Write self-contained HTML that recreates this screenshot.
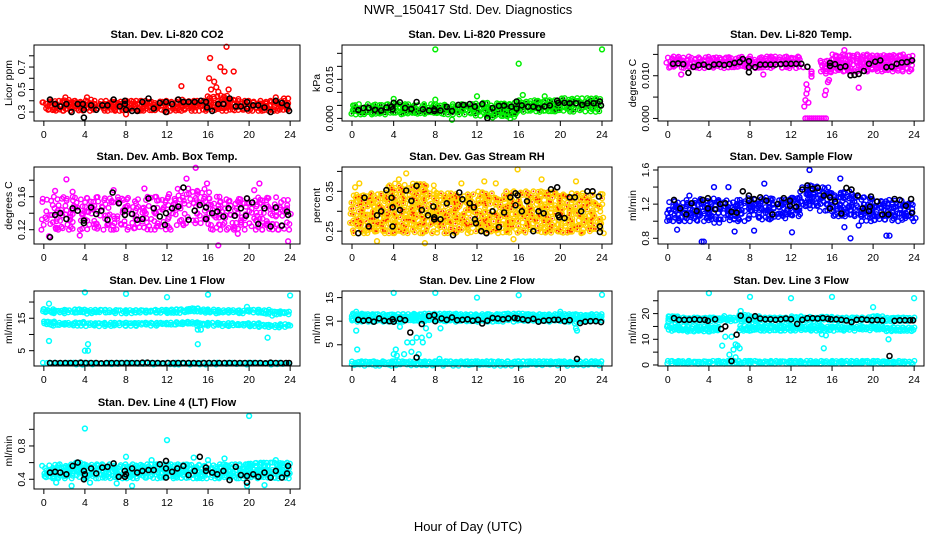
<!DOCTYPE html>
<html><head><meta charset="utf-8"><style>
html,body{margin:0;padding:0;background:#fff;}
svg{display:block;font-family:"Liberation Sans",sans-serif;}
</style></head><body>
<svg id="chart" width="936" height="540" viewBox="0 0 936 540" xmlns="http://www.w3.org/2000/svg">
<rect width="936" height="540" fill="#fff"/>
<text x="468" y="14" text-anchor="middle" font-size="13">NWR_150417  Std. Dev. Diagnostics</text>
<text x="468" y="531" text-anchor="middle" font-size="13">Hour of Day (UTC)</text>
</svg>
<script>
const xTicks = [0,4,8,12,16,20,24];

const co2Lo = [0.31,0.31,0.31,0.31,0.31,0.31,0.31,0.31,0.31,0.31,0.31,0.31,0.31,0.31,0.31,0.31,0.31,0.31,0.31,0.31,0.31,0.31,0.31,0.31];
const co2Hi = [0.40,0.40,0.41,0.40,0.41,0.40,0.40,0.40,0.40,0.40,0.40,0.40,0.40,0.41,0.40,0.40,0.44,0.45,0.42,0.40,0.40,0.40,0.40,0.40];
const co2Out = [[16.2,0.78],[17.8,0.88],[17.2,0.7],[17.6,0.66],[18.5,0.66],[16.1,0.6],[16.6,0.57],[13.4,0.53],[16.3,0.5],[16.8,0.52],[17,0.48],[18,0.5],[2.1,0.43],[4.2,0.43],[22.6,0.43],[23.4,0.42],[23.8,0.42],[8,0.28],[12,0.3]];
const co2Blk = [[0.6,0.41],[1.1,0.37],[1.6,0.35],[2.2,0.37],[2.7,0.3],[3.3,0.37],[3.8,0.37],[3.9,0.25],[3.9,0.32],[4.6,0.36],[5.1,0.32],[5.7,0.36],[6.2,0.36],[6.8,0.41],[7.4,0.35],[7.9,0.4],[7.9,0.37],[8,0.32],[8.6,0.31],[9.1,0.31],[9.6,0.39],[10.2,0.42],[10.7,0.33],[11.3,0.38],[11.9,0.3],[11.9,0.39],[12.5,0.37],[13.1,0.41],[13.6,0.39],[14.1,0.39],[14.7,0.39],[15.3,0.4],[15.8,0.39],[15.9,0.34],[16.4,0.31],[17,0.37],[17.5,0.37],[18.1,0.42],[18.7,0.35],[19.2,0.35],[19.8,0.33],[19.8,0.39],[20.4,0.36],[20.9,0.36],[21.5,0.34],[22.1,0.3],[22.6,0.4],[23.2,0.38],[23.7,0.36],[23.9,0.31]];

const presLo = [0.0015,0.0015,0.0015,0.0015,0.0015,0.0015,0.0015,0.0015,0.0015,0.0015,0.0015,0.0015,0.0003,0.0003,0.0003,0.0003,0.0025,0.0025,0.0025,0.0025,0.0025,0.0025,0.0025,0.0025];
const presHi = [0.0055,0.0055,0.0055,0.0055,0.0057,0.0055,0.0055,0.0055,0.0055,0.0055,0.0055,0.0055,0.006,0.006,0.006,0.006,0.007,0.007,0.007,0.007,0.0078,0.0078,0.0078,0.0078];
const presOut = [[8,0.0265],[16,0.021],[24,0.0265],[4,0.0075],[16.4,0.009],[18.5,0.0085],[12,0.0085],[8,0.0072],[9.6,-0.0005],[13,0.001],[15.2,0.0]];
const presBlk = [[0.6,0.0032],[1.1,0.004],[1.6,0.004],[2.2,0.0033],[2.8,0.003],[3.3,0.0042],[3.8,0.0045],[3.9,0.0035],[4,0.006],[4.6,0.0062],[5.1,0.004],[5.7,0.0037],[6.2,0.0063],[6.8,0.0035],[7.4,0.003],[7.9,0.0035],[7.9,0.0028],[8.5,0.003],[9.1,0.0044],[9.6,0.0028],[10.2,0.0052],[10.7,0.0052],[11.3,0.0055],[11.8,0.0045],[12.5,0.0055],[13,0.0001],[13.5,0.004],[14.1,0.0048],[14.6,0.0049],[15.3,0.0045],[15.8,0.0038],[15.8,0.0065],[16.3,0.005],[16.9,0.0045],[17.4,0.0045],[17.9,0.004],[18.5,0.0046],[19,0.005],[19.7,0.0068],[19.8,0.006],[20.4,0.006],[20.9,0.0058],[21.5,0.0058],[22.1,0.0052],[22.6,0.0058],[23.2,0.0058],[23.8,0.0065],[23.9,0.005]];

const tempLo = [0.0118,0.0118,0.0118,0.0118,0.0118,0.0118,0.0118,0.0118,0.0118,0.0118,0.0118,0.0118,0.0118,null,null,0.0105,0.011,0.011,0.011,0.011,0.011,0.011,0.011,0.011];
const tempHi = [0.0145,0.0145,0.0145,0.0145,0.0145,0.0145,0.0145,0.0145,0.0145,0.0145,0.0145,0.0145,0.0145,null,null,0.0135,0.015,0.015,0.015,0.015,0.015,0.015,0.015,0.015];
const tempOut = [[13.3,0.0028],[13.4,0.0043],[13.5,0.0058],[13.6,0.0068],[13.7,0.0037],[13.5,0.008],[14,0.0105],[14,0.0098],[15.3,0.0055],[15.4,0.0065],[15.6,0.0085],[15.7,0.009],[17.2,0.016],[18.6,0.0072],[1.3,0.0103],[9.3,0.0103],[13.4,0],[13.6,0],[13.8,0],[14.0,0],[14.2,0],[14.4,0],[14.6,0],[14.8,0],[15.0,0],[15.2,0],[15.4,0],[14.0,0.011],[13.2,0.012]];
const tempBlk = [[0.5,0.0128],[1,0.0129],[1.5,0.0127],[2,0.0107],[2.5,0.0121],[3,0.0125],[3.5,0.0126],[4,0.0121],[4.5,0.0126],[5,0.0127],[5.5,0.0125],[6,0.0127],[6.5,0.013],[7,0.0132],[7.3,0.0139],[7.9,0.0134],[7.9,0.012],[7.9,0.0108],[8.5,0.012],[9,0.0126],[9.5,0.0126],[10,0.0126],[10.5,0.0126],[11,0.0127],[11.5,0.0128],[12,0.0128],[12.5,0.0128],[13,0.0128],[13.6,0.0121],[15.8,0.013],[15.8,0.0123],[16.3,0.0127],[16.8,0.012],[17.3,0.0122],[17.8,0.0101],[18.2,0.0102],[18.6,0.0104],[19.1,0.0111],[19.6,0.0128],[20.2,0.0133],[20.7,0.0136],[21.3,0.012],[21.8,0.0121],[22.3,0.0128],[22.8,0.0131],[23.3,0.0132],[23.8,0.0136]];

const ambLo = [0.12,0.12,0.12,0.12,0.12,0.12,0.12,0.12,0.12,0.12,0.12,0.12,0.12,0.125,0.125,0.125,0.12,0.12,0.12,0.12,0.12,0.12,0.12,0.12];
const ambHi = [0.158,0.16,0.16,0.16,0.16,0.16,0.16,0.16,0.16,0.16,0.16,0.16,0.16,0.17,0.17,0.17,0.16,0.16,0.16,0.16,0.16,0.16,0.16,0.158];
const ambOut = [[2.2,0.181],[1.1,0.167],[14.8,0.195],[13.9,0.182],[15.9,0.176],[21,0.176],[17,0.101],[23.8,0.106],[18.9,0.115],[0.5,0.112],[2.8,0.166],[20.5,0.168],[9.8,0.17],[12.2,0.163],[6.8,0.168],[3.5,0.113]];
const ambBlk = [[0.6,0.111],[1.1,0.138],[1.6,0.14],[2.2,0.133],[2.8,0.146],[3.3,0.143],[3.9,0.128],[3.9,0.131],[4.6,0.147],[5.1,0.139],[5.6,0.143],[6.2,0.132],[6.7,0.165],[7.3,0.152],[7.9,0.143],[7.9,0.138],[8.6,0.139],[9.1,0.132],[9.6,0.133],[10.2,0.158],[10.7,0.146],[11.3,0.136],[11.8,0.126],[11.9,0.14],[12.5,0.146],[13.1,0.148],[13.6,0.171],[14.1,0.132],[14.7,0.143],[15.2,0.15],[15.8,0.147],[15.8,0.133],[16.4,0.14],[16.9,0.142],[17.5,0.136],[18,0.146],[18.6,0.137],[19.2,0.146],[19.7,0.137],[19.8,0.158],[20.3,0.153],[20.9,0.127],[21.5,0.146],[22.1,0.124],[22.6,0.147],[23.2,0.125],[23.7,0.142],[23.8,0.138]];

const rhLo = [0.245,0.245,0.245,0.245,0.245,0.245,0.245,0.245,0.245,0.245,0.245,0.245,0.245,0.245,0.245,0.245,0.245,0.245,0.245,0.245,0.245,0.245,0.245,0.245];
const rhHi = [0.345,0.345,0.345,0.365,0.37,0.37,0.37,0.365,0.345,0.345,0.345,0.345,0.35,0.345,0.345,0.35,0.35,0.35,0.35,0.35,0.35,0.345,0.345,0.345];
const rhOut = [[5.2,0.395],[4.5,0.38],[15.9,0.405],[12.7,0.375],[0.3,0.36],[2.4,0.225],[0.7,0.37],[18.2,0.38],[23.9,0.27],[15.5,0.23],[7,0.22],[10.5,0.37],[21.5,0.375],[13.8,0.37]];
const rhBlk = [[0.6,0.245],[1.2,0.334],[1.6,0.262],[2.4,0.29],[2.8,0.3],[3.3,0.353],[3.8,0.334],[3.9,0.31],[3.9,0.262],[4.6,0.303],[5.2,0.352],[5.7,0.326],[6.2,0.364],[6.7,0.303],[7.3,0.29],[7.8,0.312],[7.9,0.285],[7.9,0.28],[8.5,0.28],[9.1,0.32],[9.7,0.24],[10.3,0.347],[10.6,0.33],[11.3,0.32],[11.7,0.31],[11.8,0.28],[11.9,0.27],[12.4,0.25],[12.9,0.245],[13.5,0.3],[14.1,0.26],[14.6,0.297],[15.2,0.335],[15.7,0.345],[15.9,0.34],[15.7,0.315],[16.3,0.3],[16.8,0.325],[17.4,0.25],[17.9,0.3],[18.4,0.295],[19.1,0.355],[19.7,0.36],[19.8,0.29],[19.9,0.285],[20.4,0.283],[20.9,0.335],[21.4,0.335],[22,0.3],[22.6,0.35],[23.1,0.35],[23.7,0.337],[23.8,0.262],[23.8,0.248]];

const flowLo = [1.0,1.0,1.0,1.0,0.98,1.0,1.0,1.0,1.02,1.02,1.02,1.02,1.05,1.15,1.15,1.12,1.05,1.05,1.05,1.0,1.0,1.0,1.0,1.0];
const flowHi = [1.24,1.24,1.25,1.26,1.28,1.25,1.25,1.25,1.27,1.28,1.27,1.27,1.3,1.42,1.42,1.4,1.35,1.35,1.32,1.28,1.26,1.25,1.24,1.22];
const flowOut = [[3.3,0.76],[3.5,0.76],[13.8,1.6],[16.8,1.5],[17.8,0.8],[21.3,0.83],[21.6,0.83],[12.1,0.87],[0.9,0.9],[6.5,0.88],[4.5,1.4],[9.4,1.44],[2.1,1.3],[5.9,1.4],[18.6,0.95],[17.2,0.93],[8.4,0.89]];
const flowBlk = [[0.6,1.25],[1.2,1.15],[1.8,1.08],[2.3,1.21],[2.8,1.12],[3.4,1.25],[3.9,1.27],[3.9,1.15],[4.6,1.14],[5.1,1.2],[5.6,1.21],[6.2,1.11],[6.7,1.1],[7.3,1.35],[7.9,1.3],[7.9,1.24],[8.4,1.26],[9,1.28],[9.6,1.24],[10.2,1.08],[10.7,1.2],[11.3,1.27],[11.9,1.24],[11.9,1.18],[12.5,1.17],[13.1,1.37],[13.6,1.42],[14.1,1.38],[14.6,1.39],[15.2,1.3],[15.8,1.28],[15.8,1.15],[16.3,1.23],[16.9,1.09],[17.4,1.39],[17.9,1.37],[18.5,1.3],[19,1.15],[19.6,1.12],[19.7,1.17],[19.8,1.29],[20.4,1.23],[20.9,1.08],[21.5,1.08],[22.1,1.26],[22.6,1.25],[23.2,1.18],[23.7,1.26],[23.8,1.1]];

const l1UpLo = [16.6,16.4,16.5,16.6,16.4,16.5,16.4,16.4,16.4,16.4,16.5,16.5,16.5,16.6,16.8,16.6,16.5,16.4,16.4,16.4,16.5,16.4,15.8,16.2];
const l1UpHi = [17.8,17.4,17.6,17.8,17.6,17.6,17.5,17.5,17.5,17.5,17.6,17.6,17.7,17.8,18.1,17.9,17.7,17.5,17.5,17.5,17.6,17.6,17.2,17.2];
const l1MidLo = [12.8,12.6,12.7,12.7,12.5,12.5,12.6,12.6,12.6,12.6,12.6,12.6,12.6,12.7,12.8,12.6,12.6,12.5,12.5,12.5,12.5,12.2,12.1,12.2];
const l1MidHi = [14.0,13.6,13.7,13.9,13.5,13.5,13.6,13.6,13.6,13.6,13.6,13.7,13.7,13.8,13.9,13.6,13.6,13.5,13.5,13.5,13.5,13.2,13.1,13.2];
const l1LowLo = [0.7,0.7,0.7,0.7,0.7,0.7,0.7,0.7,0.7,0.7,0.7,0.7,0.7,0.7,0.7,0.7,0.7,0.7,0.7,0.7,0.7,0.7,0.7,0.7];
const l1LowHi = [1.3,1.3,1.3,1.3,1.3,1.3,1.3,1.3,1.3,1.3,1.3,1.3,1.3,1.3,1.3,1.3,1.3,1.3,1.3,1.3,1.3,1.3,1.3,1.3];
const l1Out = [[4,23],[8,22.5],[12,21.5],[16,22.3],[24,22],[0.5,19.5],[0.5,8],[4,5],[4.3,5],[4.3,7],[15,7],[15,11.5],[15.3,11.5],[21.8,9],[19.8,18.5],[0,17.8]];
const l1Blk = [[0.6,1.2],[1.1,1.2],[1.6,1.2],[2.1,1.2],[2.6,1.2],[3.1,1.2],[3.6,1.3],[4.1,1.2],[4.6,1.2],[5.1,1.2],[5.6,1.1],[6.1,1.2],[6.6,1.2],[7.1,1.2],[7.6,1.2],[8.1,1.2],[8.6,1.2],[9.1,1.2],[9.6,1.3],[10.1,1.3],[10.6,1.2],[11.1,1.2],[11.6,1.1],[12.1,1.2],[12.6,1.2],[13.1,1.2],[13.6,1.2],[14.1,1.2],[14.6,1.2],[15.1,1.1],[15.6,1.2],[16.1,1.2],[16.6,1.2],[17.1,1.2],[17.6,1.2],[18.1,1.2],[18.6,1.2],[19.1,1.2],[19.6,1.2],[20.1,1.2],[20.6,1.2],[21.1,1.2],[21.6,1.1],[22.1,1.3],[22.6,1.2],[23.1,1.2],[23.6,1.2],[23.9,1.2]];

const l2UpLo = [9.9,9.9,9.9,9.9,9.9,9.9,9.9,9.9,9.9,9.9,9.9,9.9,9.9,9.9,9.9,9.9,9.9,9.9,9.9,9.9,9.9,9.8,9.8,9.8];
const l2UpHi = [11.6,11.5,11.5,11.5,11.5,11.5,11.6,11.6,11.6,11.6,11.5,11.5,11.5,11.5,11.6,11.6,11.6,11.5,11.5,11.5,11.5,11.5,11.5,11.5];
const l2LowLo = [0.5,0.5,0.5,0.5,0.5,0.5,0.5,0.5,0.5,0.5,0.5,0.5,0.5,0.5,0.5,0.5,0.5,0.5,0.5,0.5,0.5,0.5,0.5,0.5];
const l2LowHi = [1.5,1.5,1.5,1.5,1.5,1.5,1.5,1.5,1.5,1.5,1.5,1.5,1.5,1.5,1.5,1.5,1.5,1.5,1.5,1.5,1.5,1.5,1.5,1.5];
const l2Out = [[4,16],[8,16],[12,15],[16,15.5],[20,12],[24,15.6],[0.4,12],[0.4,8],[0.5,4],[4,3],[4.2,4],[4.3,2.7],[5,3],[5.3,5.5],[5.7,3.5],[5.8,5.5],[6.2,6.5],[6.7,6.5],[6.8,5.5],[7.1,8.5],[7.4,7],[4.6,8.8],[21.6,8],[21.4,9.5],[21.5,8.5],[8.4,2],[8.5,8.5],[6.4,3]];
const l2Blk = [[0.6,10.3],[1.1,10.1],[1.6,10.2],[2.1,9.9],[2.6,10.6],[3.1,10.1],[3.6,10.0],[3.9,10.4],[4.0,9.9],[4.6,10.5],[5.1,10.2],[5.6,7.6],[6.2,2.3],[6.7,9.4],[7.4,11.1],[7.9,11.3],[8.0,10.0],[8.6,10.6],[9.1,10.3],[9.6,10.8],[10.1,10.2],[10.6,10.3],[11.1,10.4],[11.6,10.1],[12.1,10.3],[12.5,9.5],[13,10.1],[13.5,10.7],[14,10.6],[14.5,10.4],[15,10.6],[15.6,10.7],[15.9,10.6],[16.4,10.4],[16.9,10.2],[17.4,10.5],[17.9,9.9],[18.4,10.1],[18.9,10.2],[19.4,10.3],[19.8,10.3],[20.4,10.0],[20.9,10.2],[21.6,2.0],[21.9,9.6],[22.4,9.9],[22.9,10.0],[23.4,10.0],[23.9,9.8]];

const l3UpLo = [17,17,17,17,17,17,17,17,17,17,17,17,17,17,17,17,17,17,17,17,17,17,17,17];
const l3UpHi = [19,18.5,18.5,18.5,18.5,18.5,18.5,19.5,19,18.5,18.5,18.5,19,18.8,18.8,18.8,18.5,18.5,18.5,18.8,19,18.5,18.5,18.5];
const l3MidLo = [13.2,13,13,13,13,null,null,13.3,13.3,13.3,13.3,13.3,13.3,13.3,13.3,13.2,13.2,13.2,13.2,13.2,13.2,13.1,13.0,13.0];
const l3MidHi = [15.5,15,15,15,15,null,null,15.2,15.2,15.2,15.2,15.2,15.2,15.2,15.2,15.0,15.0,15.0,15.0,15.0,15.0,14.8,14.6,14.6];
const l3LowLo = [0.5,0.5,0.5,0.5,0.5,0.5,0.5,0.5,0.5,0.5,0.5,0.5,0.5,0.5,0.5,0.5,0.5,0.5,0.5,0.5,0.5,0.5,0.5,0.5];
const l3LowHi = [1.6,1.6,1.6,1.6,1.6,1.6,1.6,1.6,1.6,1.6,1.6,1.6,1.6,1.6,1.6,1.6,1.6,1.6,1.6,1.6,1.6,1.6,1.6,1.6];
const l3Out = [[4,28],[8,26.5],[12,26],[16,26.5],[20,22.5],[24,26],[5.3,7.5],[5.6,11],[6,4],[6.2,11],[6.4,6],[6.6,8],[6.8,7.5],[7,6.5],[7.1,21],[7.2,17],[15,12],[15.2,6.5],[15.4,11.5],[21.5,10],[20.4,19],[5.5,19],[6.6,3],[4.8,14]];
const l3Blk = [[0.6,18.2],[1.1,17.6],[1.6,17.6],[2.1,17.6],[2.6,17.8],[3.1,17.6],[3.6,17.6],[3.9,17.2],[4.6,17.8],[5.2,14],[5.6,15],[6.2,1.5],[6.7,11.8],[7.1,19.2],[7.9,17.6],[8.5,19],[9,18.1],[9.5,17.8],[10,17.8],[10.5,17.6],[11,17.8],[11.5,18.1],[12,17.8],[12.6,16],[13.1,17.6],[13.6,18.2],[14.1,18.2],[14.6,18.1],[15.1,18.3],[15.6,18.0],[15.9,17.8],[16.4,17.8],[16.9,17.6],[17.4,17.3],[17.9,16.7],[18.4,17.6],[18.9,17.8],[19.4,17.6],[19.9,17.4],[20.4,17.5],[20.9,17.3],[21.6,3.5],[22.1,17.2],[22.6,17.4],[23.1,17.4],[23.6,17.4],[23.9,17.4]];

const l4Lo = [0.41,0.41,0.41,0.41,0.41,0.41,0.41,0.41,0.41,0.41,0.41,0.41,0.41,0.41,0.41,0.41,0.41,0.41,0.41,0.41,0.41,0.41,0.41,0.41];
const l4Hi = [0.57,0.58,0.58,0.6,0.58,0.58,0.58,0.57,0.58,0.58,0.58,0.58,0.58,0.58,0.58,0.58,0.58,0.58,0.58,0.58,0.6,0.6,0.6,0.6];
const l4Out = [[4,1.01],[12,0.87],[20,1.16],[8,0.67],[14.6,0.66],[17.6,0.65],[2.7,0.32],[8.6,0.32],[19.8,0.32],[1.2,0.36],[4.5,0.36],[16,0.63],[22.6,0.63],[10.5,0.63],[7.1,0.35],[21.5,0.33]];
const l4Blk = [[0.6,0.48],[1.1,0.49],[1.6,0.48],[2.2,0.46],[2.8,0.56],[3.3,0.6],[3.9,0.5],[3.9,0.4],[4,0.46],[4.6,0.53],[5.1,0.47],[5.7,0.54],[6.2,0.55],[6.8,0.59],[7.3,0.43],[7.9,0.5],[7.9,0.43],[8,0.46],[8.6,0.53],[9.1,0.48],[9.6,0.5],[10.2,0.51],[10.7,0.51],[11.3,0.58],[11.9,0.62],[11.9,0.53],[11.9,0.42],[12.5,0.49],[13,0.53],[13.6,0.56],[14.1,0.45],[14.7,0.5],[15.2,0.67],[15.8,0.54],[15.8,0.5],[16.4,0.48],[16.9,0.46],[17.5,0.5],[18.1,0.39],[18.7,0.55],[19.2,0.45],[19.8,0.44],[19.8,0.36],[20.4,0.46],[20.9,0.43],[21.5,0.48],[22.1,0.42],[22.6,0.5],[23.2,0.42],[23.7,0.47],[23.8,0.56]];

const panels = [
 {id:'co2',title:'Stan. Dev. Li-820 CO2',ylab:'Licor ppm',box:[34,45,300,121],ymin:0.22,ymax:0.896,ticks:[0.3,0.4,0.5,0.6,0.7,0.8],labels:['0.3','','0.5','','0.7',''],color:'#ff0000',dot:null,bands:[[co2Lo,co2Hi]],out:co2Out,blk:co2Blk,step:2.8,jit:1.5,skip:0.1},
 {id:'pressure',title:'Stan. Dev. Li-820 Pressure',ylab:'kPa',box:[342,45,612,121],ymin:-0.001,ymax:0.0282,ticks:[0,0.005,0.01,0.015,0.02,0.025],labels:['0.000','','','0.015','',''],color:'#00ee00',dot:'#004400',bands:[[presLo,presHi]],out:presOut,blk:presBlk,step:2.8,jit:1.5,skip:0.1},
 {id:'temp',title:'Stan. Dev. Li-820 Temp.',ylab:'degrees C',box:[658,45,924,121],ymin:-0.0006,ymax:0.0172,ticks:[0,0.005,0.01,0.015],labels:['0.000','','0.010',''],color:'#ff00ff',dot:null,bands:[[tempLo,tempHi]],out:tempOut,blk:tempBlk,step:2.8,jit:1.5,skip:0.1},
 {id:'ambbox',title:'Stan. Dev. Amb. Box Temp.',ylab:'degrees C',box:[34,167,300,244],ymin:0.1027,ymax:0.196,ticks:[0.12,0.14,0.16,0.18],labels:['0.12','','0.16',''],color:'#ff00ff',dot:null,bands:[[ambLo,ambHi]],out:ambOut,blk:ambBlk,step:4.4,jit:3,skip:0.3},
 {id:'rh',title:'Stan. Dev. Gas Stream RH',ylab:'percent',box:[342,167,612,244],ymin:0.218,ymax:0.411,ticks:[0.25,0.3,0.35,0.4],labels:['0.25','','0.35',''],color:'#ffd000',dot:'#ff2000',bands:[[rhLo,rhHi]],out:rhOut,blk:rhBlk,step:3.4,jit:2.5,skip:0.2},
 {id:'flow',title:'Stan. Dev. Sample Flow',ylab:'ml/min',box:[658,167,924,244],ymin:0.733,ymax:1.635,ticks:[0.8,1.0,1.2,1.4,1.6],labels:['0.8','','1.2','','1.6'],color:'#0000ff',dot:null,bands:[[flowLo,flowHi]],out:flowOut,blk:flowBlk,step:3.3,jit:2.2,skip:0.22},
 {id:'line1',title:'Stan. Dev. Line 1 Flow',ylab:'ml/min',box:[34,291,300,366],ymin:0.28,ymax:23.4,ticks:[5,10,15,20],labels:['5','','15',''],color:'#00ffff',dot:null,bands:[[l1UpLo,l1UpHi],[l1MidLo,l1MidHi],[l1LowLo,l1LowHi]],out:l1Out,blk:l1Blk,step:2.4,jit:1,skip:0},
 {id:'line2',title:'Stan. Dev. Line 2 Flow',ylab:'ml/min',box:[342,291,612,366],ymin:0.5,ymax:16.4,ticks:[5,10,15],labels:['5','10','15'],color:'#00ffff',dot:null,bands:[[l2UpLo,l2UpHi],[l2LowLo,l2LowHi]],out:l2Out,blk:l2Blk,step:2.4,jit:1,skip:0},
 {id:'line3',title:'Stan. Dev. Line 3 Flow',ylab:'ml/min',box:[658,291,924,366],ymin:-0.4,ymax:28.8,ticks:[0,5,10,15,20,25],labels:['0','','10','','20',''],color:'#00ffff',dot:null,bands:[[l3UpLo,l3UpHi],[l3MidLo,l3MidHi],[l3LowLo,l3LowHi]],out:l3Out,blk:l3Blk,step:2.4,jit:1,skip:0},
 {id:'line4',title:'Stan. Dev. Line 4 (LT) Flow',ylab:'ml/min',box:[34,413,300,489],ymin:0.283,ymax:1.196,ticks:[0.4,0.6,0.8,1.0],labels:['0.4','','0.8',''],color:'#00ffff',dot:null,bands:[[l4Lo,l4Hi]],out:l4Out,blk:l4Blk,step:2.8,jit:1.8,skip:0.1}
];

const NS='http://www.w3.org/2000/svg';
const svg=document.getElementById('chart');
function mk(tag,attrs,parent){const e=document.createElementNS(NS,tag);for(const k in attrs)e.setAttribute(k,attrs[k]);(parent||svg).appendChild(e);return e;}
// deterministic scatter offset for texture (layout only)
function hsh(a,b){const s=Math.sin(a*12.9898+b*78.233)*43758.5453;return s-Math.floor(s);}

panels.forEach(p=>{
  const [x0,y0,x1,y1]=p.box;
  const g=mk('g',{});
  
  
  const xs=h=>x0+(h+0.96)/25.92*(x1-x0);
  const ys=v=>y1-(v-p.ymin)/(p.ymax-p.ymin)*(y1-y0);
  const bg=mk('g',{fill:'none',stroke:p.color,'stroke-width':1.4},g);
  
  
  const dg=mk('g',{fill:p.dot||'none'},g);
  p.bands.forEach(([lo,hi],bi)=>{
    for(let i=0;i<24;i++){
      if(lo[i]==null||hi[i]==null) continue;
      const xa=xs(i), xb=xs(i+1), ya=ys(hi[i]), yb=ys(lo[i]);
      let col=0;
      for(let x=xa;x<xb;x+=p.step,col++){
        const off=(col%2)*p.step/2;
        let row=0;
        for(let y=ya+off;y<=yb;y+=p.step,row++){
          const r1=hsh(x+bi*7,y), r2=hsh(y+bi*3,x);
          if(r1<p.skip) continue;
          const cx=x+(r2-0.5)*2*p.jit, cy=Math.min(yb,Math.max(ya,y+(r1-0.5)*2*p.jit));
          const c=mk('circle',{cx:cx.toFixed(1),cy:cy.toFixed(1),r:2.3},bg);
          
          
          if(p.dot && r2<0.6) mk('circle',{cx:cx.toFixed(1),cy:cy.toFixed(1),r:0.9},dg);
        }
      }
    }
  });
  p.out.forEach(([h,v])=>{
    const c=mk('circle',{cx:xs(h).toFixed(1),cy:ys(v).toFixed(1),r:2.4,fill:'none',stroke:p.color,'stroke-width':1.5},g);
    
    
  });
  p.blk.forEach(([h,v])=>{
    const c=mk('circle',{cx:xs(h).toFixed(1),cy:ys(v).toFixed(1),r:2.5,fill:'none',stroke:'#000','stroke-width':1.6},g);
    
    
  });
  const b=mk('rect',{x:x0,y:y0,width:x1-x0,height:y1-y0,fill:'none',stroke:'#000','stroke-width':1},g);
  
  
  xTicks.forEach(t=>{
    mk('line',{x1:xs(t),x2:xs(t),y1:y1,y2:y1+5,stroke:'#000'},g);
    const tx=mk('text',{x:xs(t),y:y1+17,'text-anchor':'middle','font-size':10.5},g);
    tx.textContent=t;
    
    
  });
  p.ticks.forEach((t,i)=>{
    const y=ys(t);
    mk('line',{x1:x0-5,x2:x0,y1:y,y2:y,stroke:'#000'},g);
    if(p.labels[i]){
      const tx=mk('text',{x:x0-9,y:y,'text-anchor':'middle','font-size':10.5,transform:`rotate(-90 ${x0-9} ${y})`},g);
      tx.textContent=p.labels[i];
      
      
    }
  });
  const yl=mk('text',{x:x0-22,y:(y0+y1)/2,'text-anchor':'middle','font-size':10.5,transform:`rotate(-90 ${x0-22} ${(y0+y1)/2})`},g);
  yl.textContent=p.ylab;
  
  
  const tt=mk('text',{x:(x0+x1)/2,y:y0-7,'text-anchor':'middle','font-size':11,'font-weight':'bold'},g);
  tt.textContent=p.title;
  
  
});
</script>
</body></html>
